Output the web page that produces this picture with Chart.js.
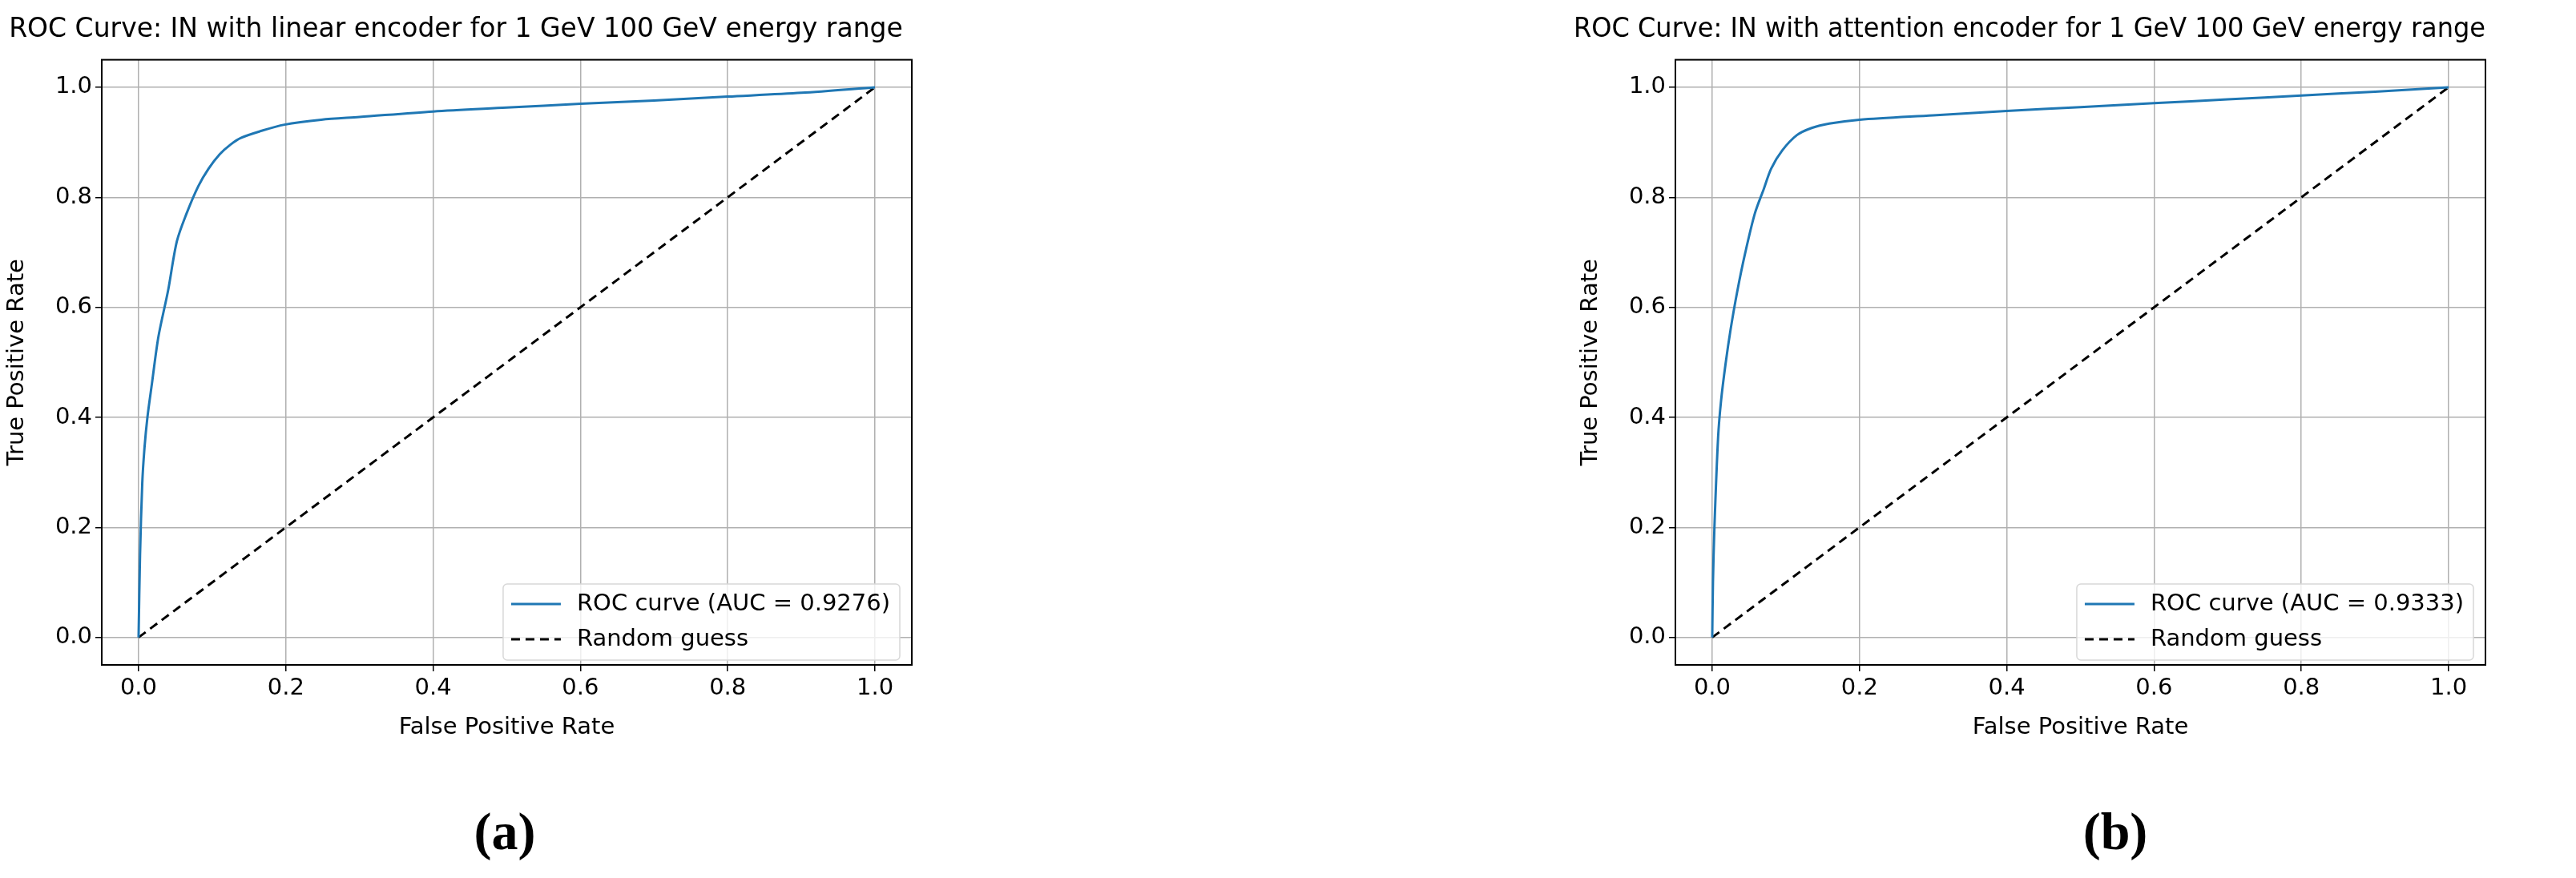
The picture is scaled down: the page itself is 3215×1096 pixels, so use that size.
<!DOCTYPE html>
<html>
<head>
<meta charset="utf-8">
<script src="https://cdn.jsdelivr.net/npm/chart.js@4"></script>
<style>
  body { margin: 0; background: #fff; width: 3215px; height: 1096px; position: relative; overflow: hidden; }
  canvas { position: absolute; top: 0; }
  .cap { position: absolute; top: 1000px; font-family: "Liberation Serif", serif; font-weight: bold; font-size: 66px; transform: translateX(-50%); }
</style>
</head>
<body>
<canvas id="chartA" width="1264" height="930" style="left:0px"></canvas>
<canvas id="chartB" width="1250" height="930" style="left:1964px"></canvas>
<div class="cap" style="left:630px">(a)</div>
<div class="cap" style="left:2640px">(b)</div>
<script>
// ROC curve (a): linear encoder
const fprA = [0, 0.002, 0.005, 0.008, 0.012, 0.018, 0.027, 0.04, 0.052, 0.065, 0.081, 0.095, 0.11, 0.125, 0.139, 0.165, 0.198, 0.248, 0.3, 0.4, 0.5, 0.6, 0.7, 0.8, 0.9, 1.0];
const tprA = [0, 0.15, 0.28, 0.344, 0.40, 0.46, 0.547, 0.63, 0.72, 0.77, 0.82, 0.852, 0.878, 0.896, 0.908, 0.92, 0.932, 0.941, 0.946, 0.956, 0.963, 0.970, 0.976, 0.983, 0.99, 1.0];
// ROC curve (b): attention encoder
const fprB = [0, 0.001, 0.003, 0.008, 0.012, 0.018, 0.025, 0.034, 0.045, 0.058, 0.07, 0.08, 0.095, 0.115, 0.135, 0.159, 0.2, 0.3, 0.4, 0.5, 0.6, 0.7, 0.8, 0.9, 1.0];
const tprB = [0, 0.1, 0.2, 0.364, 0.43, 0.496, 0.56, 0.629, 0.70, 0.771, 0.815, 0.852, 0.885, 0.913, 0.926, 0.934, 0.941, 0.949, 0.957, 0.964, 0.971, 0.978, 0.985, 0.992, 1.0];
const randomX = [0, 1];
const randomY = [0, 1];
const tickValues = [0, 0.2, 0.4, 0.6, 0.8, 1.0];

const titles = [
  'ROC Curve: IN with linear encoder for 1 GeV 100 GeV energy range',
  'ROC Curve: IN with attention encoder for 1 GeV 100 GeV energy range'
];
const aucLabels = ['ROC curve (AUC = 0.9276)', 'ROC curve (AUC = 0.9333)'];

const FONT = 'DejaVu Sans';

// frame around the plot + legend inside lower right, like matplotlib
const innerLegend = {
  id: 'innerLegend',
  afterDraw(chart) {
    const ctx = chart.ctx, area = chart.chartArea;
    const sets = chart.data.datasets;
    ctx.save();
    ctx.strokeStyle = '#000';
    ctx.lineWidth = 2;
    ctx.strokeRect(area.left, area.top, area.right - area.left, area.bottom - area.top);
    ctx.font = '29px ' + FONT;
    let tw = Math.max(...sets.map(d => ctx.measureText(d.label).width));
    const w = 10 + 62 + 20 + tw + 12, h = 95;
    const x0 = area.right - 15 - w, y0 = area.bottom - 6 - h;
    ctx.fillStyle = 'rgba(255,255,255,0.8)';
    ctx.strokeStyle = '#d8d8d8';
    ctx.lineWidth = 1.5;
    ctx.beginPath();
    ctx.roundRect(x0, y0, w, h, 5);
    ctx.fill(); ctx.stroke();
    sets.forEach((d, i) => {
      const yy = y0 + 25 + i * 44;
      ctx.strokeStyle = d.borderColor;
      ctx.lineWidth = 3;
      ctx.setLineDash(d.borderDash || []);
      ctx.beginPath(); ctx.moveTo(x0 + 10, yy); ctx.lineTo(x0 + 72, yy); ctx.stroke();
      ctx.setLineDash([]);
      ctx.fillStyle = '#000';
      ctx.textBaseline = 'middle';
      ctx.fillText(d.label, x0 + 92, yy);
    });
    ctx.restore();
  }
};

function makeChart(id, fpr, tpr, title, auc, rightPad) {
  new Chart(document.getElementById(id), {
    type: 'line',
    data: {
      datasets: [{
        label: auc,
        data: fpr.map((x, i) => ({ x: x, y: tpr[i] })),
        borderColor: '#1f77b4',
        borderWidth: 3,
        pointRadius: 0,
        tension: 0.3,
        fill: false
      }, {
        label: 'Random guess',
        data: randomX.map((x, i) => ({ x: x, y: randomY[i] })),
        borderColor: '#000000',
        borderWidth: 3,
        borderDash: [11, 7],
        pointRadius: 0,
        fill: false
      }]
    },
    options: {
      responsive: false,
      animation: false,
      devicePixelRatio: 1,
      layout: { padding: { top: 4, right: rightPad } },
      plugins: {
        legend: { display: false },
        tooltip: { enabled: false },
        title: {
          display: true, text: title, color: '#000',
          font: { family: FONT, size: 33, weight: 'normal' },
          padding: { top: 14, bottom: 17 }
        }
      },
      scales: {
        x: {
          type: 'linear', min: -0.05, max: 1.05,
          afterBuildTicks: s => { s.ticks = tickValues.map(v => ({ value: v })); },
          afterFit: s => { s.height = 100; },
          grid: { color: '#b0b0b0', lineWidth: 1.5, drawTicks: true, tickLength: 8, tickColor: '#000' },
          border: { color: '#000', width: 2 },
          ticks: { color: '#000', font: { family: FONT, size: 29 }, padding: 4, callback: v => v.toFixed(1) },
          title: { display: true, text: 'False Positive Rate', color: '#000', font: { family: FONT, size: 29 }, padding: { top: 0 } }
        },
        y: {
          type: 'linear', min: -0.05, max: 1.05,
          afterBuildTicks: s => { s.ticks = tickValues.map(v => ({ value: v })); },
          afterFit: s => { s.width = 127; },
          grid: { color: '#b0b0b0', lineWidth: 1.5, drawTicks: true, tickLength: 8, tickColor: '#000' },
          border: { color: '#000', width: 2 },
          ticks: { color: '#000', font: { family: FONT, size: 29 }, padding: 4, callback: v => v.toFixed(1) },
          title: { display: true, text: 'True Positive Rate', color: '#000', font: { family: FONT, size: 29 }, padding: { bottom: 2 } }
        }
      }
    },
    plugins: [innerLegend]
  });
}

makeChart('chartA', fprA, tprA, titles[0], aucLabels[0], 126);
makeChart('chartB', fprB, tprB, titles[1], aucLabels[1], 112);
</script>
</body>
</html>
